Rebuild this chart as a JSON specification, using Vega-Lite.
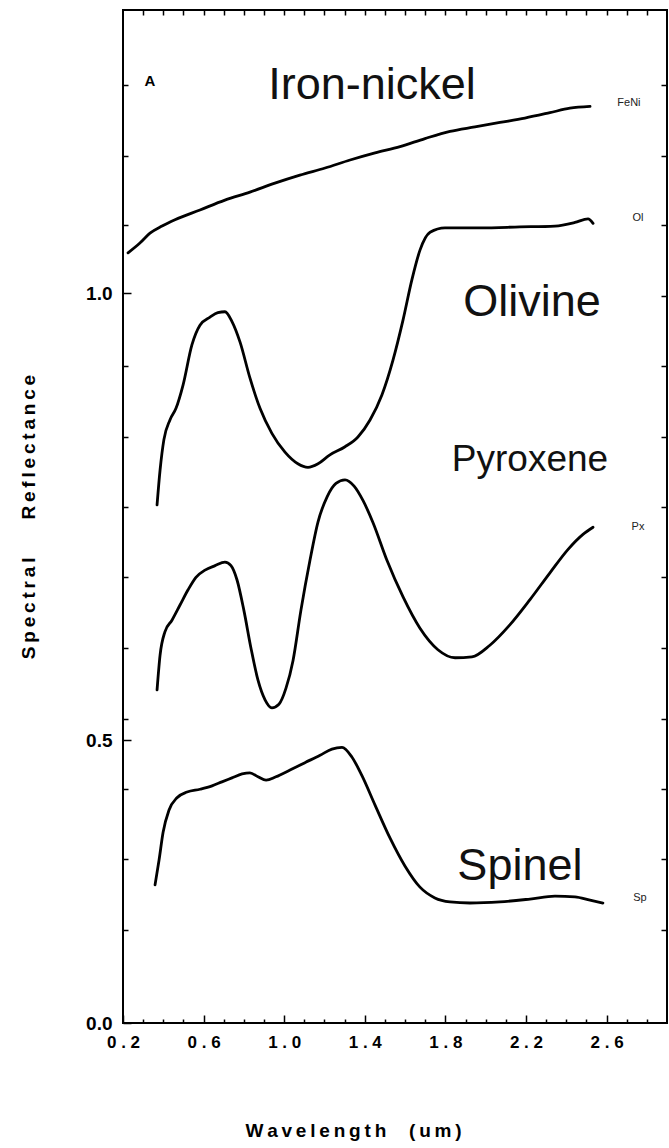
{
  "$schema": "https://vega.github.io/schema/vega-lite/v6.json",
  "width": 544,
  "height": 1013,
  "autosize": {"type": "none"},
  "padding": {"left": 123, "top": 10, "right": 2, "bottom": 125},
  "background": "white",
  "config": {
    "view": {"stroke": "black", "strokeWidth": 2},
    "axis": {
      "domain": false,
      "grid": false,
      "tickColor": "black",
      "tickWidth": 1.5,
      "labelFont": "Liberation Sans",
      "labelFontWeight": "bold",
      "labelColor": "black",
      "labelFlush": false,
      "labelOverlap": false,
      "labelBound": false,
      "titleFont": "Liberation Sans",
      "titleFontWeight": "bold",
      "titleColor": "black"
    }
  },
  "datasets": {
    "spectra": [
      {"mineral": "FeNi", "wavelength": 0.225, "reflectance": 1.045},
      {"mineral": "FeNi", "wavelength": 0.284, "reflectance": 1.056},
      {"mineral": "FeNi", "wavelength": 0.334, "reflectance": 1.067},
      {"mineral": "FeNi", "wavelength": 0.394, "reflectance": 1.075},
      {"mineral": "FeNi", "wavelength": 0.458, "reflectance": 1.082},
      {"mineral": "FeNi", "wavelength": 0.582, "reflectance": 1.093},
      {"mineral": "FeNi", "wavelength": 0.706, "reflectance": 1.104},
      {"mineral": "FeNi", "wavelength": 0.830, "reflectance": 1.113},
      {"mineral": "FeNi", "wavelength": 0.954, "reflectance": 1.123},
      {"mineral": "FeNi", "wavelength": 1.078, "reflectance": 1.132},
      {"mineral": "FeNi", "wavelength": 1.203, "reflectance": 1.140},
      {"mineral": "FeNi", "wavelength": 1.327, "reflectance": 1.149},
      {"mineral": "FeNi", "wavelength": 1.451, "reflectance": 1.157},
      {"mineral": "FeNi", "wavelength": 1.575, "reflectance": 1.164},
      {"mineral": "FeNi", "wavelength": 1.699, "reflectance": 1.173},
      {"mineral": "FeNi", "wavelength": 1.823, "reflectance": 1.181},
      {"mineral": "FeNi", "wavelength": 1.947, "reflectance": 1.186},
      {"mineral": "FeNi", "wavelength": 2.071, "reflectance": 1.191},
      {"mineral": "FeNi", "wavelength": 2.195, "reflectance": 1.196},
      {"mineral": "FeNi", "wavelength": 2.319, "reflectance": 1.202},
      {"mineral": "FeNi", "wavelength": 2.418, "reflectance": 1.207},
      {"mineral": "FeNi", "wavelength": 2.518, "reflectance": 1.209},

      {"mineral": "Ol", "wavelength": 0.369, "reflectance": 0.763},
      {"mineral": "Ol", "wavelength": 0.384, "reflectance": 0.802},
      {"mineral": "Ol", "wavelength": 0.403, "reflectance": 0.836},
      {"mineral": "Ol", "wavelength": 0.433, "reflectance": 0.858},
      {"mineral": "Ol", "wavelength": 0.463, "reflectance": 0.871},
      {"mineral": "Ol", "wavelength": 0.498, "reflectance": 0.897},
      {"mineral": "Ol", "wavelength": 0.542, "reflectance": 0.942},
      {"mineral": "Ol", "wavelength": 0.582, "reflectance": 0.964},
      {"mineral": "Ol", "wavelength": 0.632, "reflectance": 0.973},
      {"mineral": "Ol", "wavelength": 0.671, "reflectance": 0.978},
      {"mineral": "Ol", "wavelength": 0.706, "reflectance": 0.979},
      {"mineral": "Ol", "wavelength": 0.741, "reflectance": 0.968},
      {"mineral": "Ol", "wavelength": 0.781, "reflectance": 0.945},
      {"mineral": "Ol", "wavelength": 0.830, "reflectance": 0.905},
      {"mineral": "Ol", "wavelength": 0.880, "reflectance": 0.871},
      {"mineral": "Ol", "wavelength": 0.939, "reflectance": 0.843},
      {"mineral": "Ol", "wavelength": 1.004, "reflectance": 0.822},
      {"mineral": "Ol", "wavelength": 1.068, "reflectance": 0.809},
      {"mineral": "Ol", "wavelength": 1.118, "reflectance": 0.805},
      {"mineral": "Ol", "wavelength": 1.168, "reflectance": 0.809},
      {"mineral": "Ol", "wavelength": 1.227, "reflectance": 0.819},
      {"mineral": "Ol", "wavelength": 1.302, "reflectance": 0.828},
      {"mineral": "Ol", "wavelength": 1.366, "reflectance": 0.839},
      {"mineral": "Ol", "wavelength": 1.426, "reflectance": 0.858},
      {"mineral": "Ol", "wavelength": 1.485, "reflectance": 0.886},
      {"mineral": "Ol", "wavelength": 1.540, "reflectance": 0.925},
      {"mineral": "Ol", "wavelength": 1.590, "reflectance": 0.970},
      {"mineral": "Ol", "wavelength": 1.634, "reflectance": 1.015},
      {"mineral": "Ol", "wavelength": 1.674, "reflectance": 1.048},
      {"mineral": "Ol", "wavelength": 1.724, "reflectance": 1.068},
      {"mineral": "Ol", "wavelength": 1.798, "reflectance": 1.073},
      {"mineral": "Ol", "wavelength": 1.972, "reflectance": 1.073},
      {"mineral": "Ol", "wavelength": 2.170, "reflectance": 1.074},
      {"mineral": "Ol", "wavelength": 2.344, "reflectance": 1.075},
      {"mineral": "Ol", "wavelength": 2.443, "reflectance": 1.079},
      {"mineral": "Ol", "wavelength": 2.508, "reflectance": 1.083},
      {"mineral": "Ol", "wavelength": 2.533, "reflectance": 1.078},

      {"mineral": "Px", "wavelength": 0.369, "reflectance": 0.556},
      {"mineral": "Px", "wavelength": 0.384, "reflectance": 0.595},
      {"mineral": "Px", "wavelength": 0.408, "reflectance": 0.621},
      {"mineral": "Px", "wavelength": 0.443, "reflectance": 0.634},
      {"mineral": "Px", "wavelength": 0.483, "reflectance": 0.651},
      {"mineral": "Px", "wavelength": 0.523, "reflectance": 0.668},
      {"mineral": "Px", "wavelength": 0.562, "reflectance": 0.682},
      {"mineral": "Px", "wavelength": 0.607, "reflectance": 0.690},
      {"mineral": "Px", "wavelength": 0.657, "reflectance": 0.695},
      {"mineral": "Px", "wavelength": 0.706, "reflectance": 0.699},
      {"mineral": "Px", "wavelength": 0.736, "reflectance": 0.695},
      {"mineral": "Px", "wavelength": 0.766, "reflectance": 0.679},
      {"mineral": "Px", "wavelength": 0.800, "reflectance": 0.645},
      {"mineral": "Px", "wavelength": 0.835, "reflectance": 0.603},
      {"mineral": "Px", "wavelength": 0.870, "reflectance": 0.567},
      {"mineral": "Px", "wavelength": 0.905, "reflectance": 0.545},
      {"mineral": "Px", "wavelength": 0.939, "reflectance": 0.536},
      {"mineral": "Px", "wavelength": 0.974, "reflectance": 0.540},
      {"mineral": "Px", "wavelength": 1.009, "reflectance": 0.558},
      {"mineral": "Px", "wavelength": 1.044, "reflectance": 0.589},
      {"mineral": "Px", "wavelength": 1.083, "reflectance": 0.645},
      {"mineral": "Px", "wavelength": 1.128, "reflectance": 0.701},
      {"mineral": "Px", "wavelength": 1.168, "reflectance": 0.744},
      {"mineral": "Px", "wavelength": 1.213, "reflectance": 0.772},
      {"mineral": "Px", "wavelength": 1.257, "reflectance": 0.787},
      {"mineral": "Px", "wavelength": 1.302, "reflectance": 0.791},
      {"mineral": "Px", "wavelength": 1.347, "reflectance": 0.784},
      {"mineral": "Px", "wavelength": 1.391, "reflectance": 0.768},
      {"mineral": "Px", "wavelength": 1.441, "reflectance": 0.743},
      {"mineral": "Px", "wavelength": 1.510, "reflectance": 0.701},
      {"mineral": "Px", "wavelength": 1.590, "reflectance": 0.660},
      {"mineral": "Px", "wavelength": 1.674, "reflectance": 0.625},
      {"mineral": "Px", "wavelength": 1.763, "reflectance": 0.601},
      {"mineral": "Px", "wavelength": 1.848, "reflectance": 0.592},
      {"mineral": "Px", "wavelength": 1.932, "reflectance": 0.593},
      {"mineral": "Px", "wavelength": 2.021, "reflectance": 0.606},
      {"mineral": "Px", "wavelength": 2.121, "reflectance": 0.629},
      {"mineral": "Px", "wavelength": 2.220, "reflectance": 0.657},
      {"mineral": "Px", "wavelength": 2.319, "reflectance": 0.687},
      {"mineral": "Px", "wavelength": 2.408, "reflectance": 0.713},
      {"mineral": "Px", "wavelength": 2.483, "reflectance": 0.730},
      {"mineral": "Px", "wavelength": 2.533, "reflectance": 0.738},

      {"mineral": "Sp", "wavelength": 0.359, "reflectance": 0.244},
      {"mineral": "Sp", "wavelength": 0.379, "reflectance": 0.288},
      {"mineral": "Sp", "wavelength": 0.399, "reflectance": 0.337},
      {"mineral": "Sp", "wavelength": 0.428, "reflectance": 0.376},
      {"mineral": "Sp", "wavelength": 0.468, "reflectance": 0.398},
      {"mineral": "Sp", "wavelength": 0.518, "reflectance": 0.408},
      {"mineral": "Sp", "wavelength": 0.582, "reflectance": 0.413},
      {"mineral": "Sp", "wavelength": 0.642, "reflectance": 0.419},
      {"mineral": "Sp", "wavelength": 0.691, "reflectance": 0.426},
      {"mineral": "Sp", "wavelength": 0.741, "reflectance": 0.433},
      {"mineral": "Sp", "wavelength": 0.791, "reflectance": 0.440},
      {"mineral": "Sp", "wavelength": 0.830, "reflectance": 0.442},
      {"mineral": "Sp", "wavelength": 0.870, "reflectance": 0.435},
      {"mineral": "Sp", "wavelength": 0.910, "reflectance": 0.429},
      {"mineral": "Sp", "wavelength": 0.959, "reflectance": 0.435},
      {"mineral": "Sp", "wavelength": 1.029, "reflectance": 0.447},
      {"mineral": "Sp", "wavelength": 1.103, "reflectance": 0.460},
      {"mineral": "Sp", "wavelength": 1.178, "reflectance": 0.473},
      {"mineral": "Sp", "wavelength": 1.237, "reflectance": 0.484},
      {"mineral": "Sp", "wavelength": 1.287, "reflectance": 0.487},
      {"mineral": "Sp", "wavelength": 1.336, "reflectance": 0.470},
      {"mineral": "Sp", "wavelength": 1.386, "reflectance": 0.437},
      {"mineral": "Sp", "wavelength": 1.451, "reflectance": 0.385},
      {"mineral": "Sp", "wavelength": 1.525, "reflectance": 0.327},
      {"mineral": "Sp", "wavelength": 1.600, "reflectance": 0.277},
      {"mineral": "Sp", "wavelength": 1.674, "reflectance": 0.240},
      {"mineral": "Sp", "wavelength": 1.748, "reflectance": 0.221},
      {"mineral": "Sp", "wavelength": 1.823, "reflectance": 0.214},
      {"mineral": "Sp", "wavelength": 1.922, "reflectance": 0.212},
      {"mineral": "Sp", "wavelength": 2.071, "reflectance": 0.214},
      {"mineral": "Sp", "wavelength": 2.220, "reflectance": 0.219},
      {"mineral": "Sp", "wavelength": 2.344, "reflectance": 0.224},
      {"mineral": "Sp", "wavelength": 2.443, "reflectance": 0.223},
      {"mineral": "Sp", "wavelength": 2.518, "reflectance": 0.217},
      {"mineral": "Sp", "wavelength": 2.582, "reflectance": 0.212}
    ],
    "notes": [
      {"note": "Iron-nickel", "role": "mineral", "wavelength": 1.436, "reflectance": 1.233},
      {"note": "Olivine", "role": "mineral", "wavelength": 2.23, "reflectance": 0.990},
      {"note": "Pyroxene", "role": "mineral", "wavelength": 2.22, "reflectance": 0.813},
      {"note": "Spinel", "role": "mineral", "wavelength": 2.17, "reflectance": 0.277},
      {"note": "FeNi", "role": "tag", "wavelength": 2.711, "reflectance": 1.213},
      {"note": "Ol", "role": "tag", "wavelength": 2.756, "reflectance": 1.084},
      {"note": "Px", "role": "tag", "wavelength": 2.756, "reflectance": 0.738},
      {"note": "Sp", "role": "tag", "wavelength": 2.766, "reflectance": 0.221},
      {"note": "A", "role": "panel", "wavelength": 0.334, "reflectance": 1.238}
    ]
  },
  "resolve": {"axis": {"x": "independent", "y": "independent"}},
  "layer": [
    {
      "data": {"name": "spectra"},
      "mark": {"type": "line", "color": "black", "strokeWidth": 2.8, "interpolate": "monotone", "strokeCap": "round", "strokeJoin": "round"},
      "encoding": {
        "x": {
          "field": "wavelength", "type": "quantitative",
          "scale": {"domain": [0.2, 2.9], "nice": false, "zero": false},
          "axis": {
            "orient": "bottom",
            "values": [0.2, 0.6, 1.0, 1.4, 1.8, 2.2, 2.6],
            "tickSize": -8,
            "labelPadding": 19,
            "labelFontSize": 17,
            "labelExpr": "replace(format(datum.value, '.1f'), '.', ' . ')",
            "title": "W\u2009a\u2009v\u2009e\u2009l\u2009e\u2009n\u2009g\u2009t\u2009h\u2003\u2009(\u2009u\u2009m\u2009)",
            "titleFontSize": 19,
            "titleX": 230,
            "titleY": 107,
            "titleBaseline": "middle"
          }
        },
        "y": {
          "field": "reflectance", "type": "quantitative",
          "scale": {"domain": [0, 0.5, 1.0, 1.317], "range": [1013, 730, 283, 0], "nice": false, "zero": false},
          "axis": {
            "orient": "left",
            "values": [0, 0.5, 1.0],
            "format": ".1f",
            "tickSize": -8,
            "labelPadding": 19,
            "labelFontSize": 19,
            "title": "S\u2009p\u2009e\u2009c\u2009t\u2009r\u2009a\u2009l\u2003\u2003R\u2009e\u2009f\u2009l\u2009e\u2009c\u2009t\u2009a\u2009n\u2009c\u2009e",
            "titleFontSize": 19,
            "titleX": -95,
            "titleBaseline": "middle"
          }
        },
        "detail": {"field": "mineral"}
      }
    },
    {
      "data": {"name": "notes"},
      "transform": [{"filter": "datum.role === 'mineral'"}],
      "mark": {"type": "text", "font": "Liberation Sans", "align": "center", "baseline": "middle", "color": "#111"},
      "encoding": {
        "x": {
          "field": "wavelength", "type": "quantitative",
          "scale": {"domain": [0.2, 2.9], "nice": false, "zero": false},
          "axis": {
            "orient": "bottom",
            "values": [0.3, 0.4, 0.5, 0.7, 0.8, 0.9, 1.1, 1.2, 1.3, 1.5, 1.6, 1.7, 1.9, 2.0, 2.1, 2.3, 2.4, 2.5, 2.7, 2.8],
            "tickSize": -4,
            "labels": false,
            "title": null
          }
        },
        "y": {
          "field": "reflectance", "type": "quantitative",
          "scale": {"domain": [0, 0.5, 1.0, 1.317], "range": [1013, 730, 283, 0], "nice": false, "zero": false},
          "axis": {
            "orient": "right",
            "values": [0.164, 0.289, 0.413, 0.524, 0.603, 0.682, 0.761, 0.839, 0.918, 0.997, 1.076, 1.154, 1.233],
            "tickSize": -6,
            "labels": false,
            "title": null
          }
        },
        "size": {"condition": {"test": "datum.note === 'Pyroxene'", "value": 37}, "value": 45},
        "text": {"field": "note"}
      }
    },
    {
      "data": {"name": "notes"},
      "transform": [{"filter": "datum.role === 'tag'"}],
      "mark": {"type": "text", "font": "Liberation Sans", "fontSize": 11, "align": "center", "baseline": "middle", "color": "#222"},
      "encoding": {
        "x": {
          "field": "wavelength", "type": "quantitative",
          "scale": {"domain": [0.2, 2.9], "nice": false, "zero": false},
          "axis": {
            "orient": "top",
            "values": [0.3, 0.4, 0.5, 0.6, 0.7, 0.8, 0.9, 1.0, 1.1, 1.2, 1.3, 1.4, 1.5, 1.6, 1.7, 1.8, 1.9, 2.0, 2.1, 2.2, 2.3, 2.4, 2.5, 2.6, 2.7, 2.8],
            "tickSize": -5,
            "labels": false,
            "title": null
          }
        },
        "y": {
          "field": "reflectance", "type": "quantitative",
          "scale": {"domain": [0, 0.5, 1.0, 1.317], "range": [1013, 730, 283, 0], "nice": false, "zero": false},
          "axis": {
            "orient": "left",
            "values": [0.164, 0.289, 0.413, 0.524, 0.603, 0.682, 0.761, 0.839, 0.918, 1.076, 1.154, 1.233],
            "tickSize": -5,
            "labels": false,
            "title": null
          }
        },
        "text": {"field": "note"}
      }
    },
    {
      "data": {"name": "notes"},
      "transform": [{"filter": "datum.role === 'panel'"}],
      "mark": {"type": "text", "font": "Liberation Sans", "fontWeight": "bold", "fontSize": 15, "align": "center", "baseline": "middle", "color": "black"},
      "encoding": {
        "x": {"field": "wavelength", "type": "quantitative", "scale": {"domain": [0.2, 2.9], "nice": false, "zero": false}, "axis": null},
        "y": {"field": "reflectance", "type": "quantitative", "scale": {"domain": [0, 0.5, 1.0, 1.317], "range": [1013, 730, 283, 0], "nice": false, "zero": false}, "axis": null},
        "text": {"field": "note"}
      }
    }
  ]
}
